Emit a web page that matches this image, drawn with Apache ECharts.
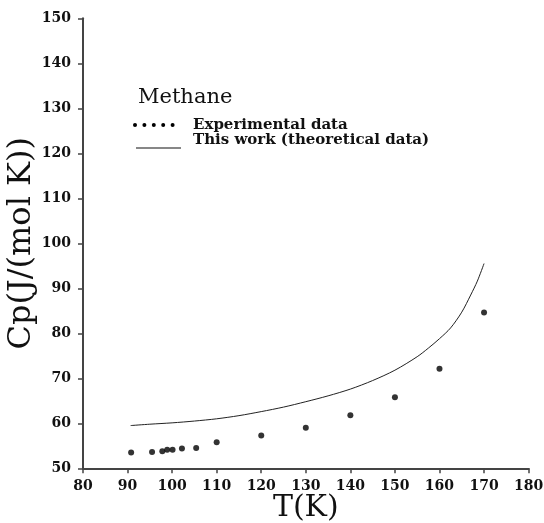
<!DOCTYPE html>
<html>
<head>
<meta charset="utf-8">
<script src="https://cdn.jsdelivr.net/npm/echarts@6/dist/echarts.min.js"></script>
<style>html,body{margin:0;padding:0;background:#fff}#c{width:544px;height:523px}</style>
</head>
<body>
<div id="c"></div>
<script>
// Experimental data
const expT  = [90.8, 95.5, 97.8, 98.9, 100.1, 102.2, 105.4, 110, 120, 130, 140, 150, 160, 170];
const expCp = [53.5, 53.6, 53.8, 54.1, 54.1, 54.4, 54.5, 55.8, 57.3, 59.0, 61.8, 65.8, 72.1, 84.6];
// Theoretical curve
const thT  = [90.7, 95, 100, 105, 110, 115, 120, 125, 130, 135, 140, 145, 150, 155, 157.5, 160, 162.5, 165, 167, 168.5, 170];
const thCp = [59.5, 59.8, 60.1, 60.5, 61.0, 61.7, 62.6, 63.6, 64.8, 66.1, 67.6, 69.5, 71.8, 74.8, 76.7, 78.8, 81.2, 84.7, 88.5, 91.6, 95.5];
// Axis ticks
const xTicks = [80, 90, 100, 110, 120, 130, 140, 150, 160, 170, 180];
const yTicks = [50, 60, 70, 80, 90, 100, 110, 120, 130, 140, 150];

const FONT = 'DejaVu Serif';
const chart = echarts.init(document.getElementById('c'), null, {renderer: 'canvas'});
const axisCommon = {
  axisLine: {show: true, lineStyle: {color: '#444', width: 2}},
  axisTick: {show: true, inside: false, length: 5, lineStyle: {color: '#444', width: 1.5}},
  splitLine: {show: false},
  axisLabel: {color: '#111', fontFamily: FONT, fontSize: 14, fontWeight: 'bold', margin: 12}
};
const legendDots = [];
for (let i = 0; i < 5; i++) {
  legendDots.push({type: 'circle', shape: {cx: 135 + i * 9.4, cy: 125, r: 2}, style: {fill: '#000'}});
}
chart.setOption({
  animation: false,
  backgroundColor: '#fff',
  grid: {left: 83, right: 15.4, top: 18.3, bottom: 54.7, containLabel: false, outerBoundsMode: 'none'},
  xAxis: Object.assign({}, axisCommon, {
    type: 'value', min: xTicks[0], max: xTicks[xTicks.length - 1], interval: 10,
    name: 'T(K)', nameLocation: 'middle', nameGap: 25, nameMoveOverlap: false,
    nameTextStyle: {fontFamily: FONT, fontSize: 30, color: '#111'},
    axisLabel: Object.assign({}, axisCommon.axisLabel, {margin: 11})
  }),
  yAxis: Object.assign({}, axisCommon, {
    type: 'value', min: yTicks[0], max: yTicks[yTicks.length - 1], interval: 10,
    name: 'Cp(J/(mol K))', nameLocation: 'middle', nameGap: 45, nameRotate: 90, nameMoveOverlap: false,
    nameTextStyle: {fontFamily: FONT, fontSize: 32, color: '#111'}
  }),
  series: [
    {
      type: 'line', name: 'This work (theoretical data)',
      data: thT.map((t, i) => [t, thCp[i]]),
      smooth: 0.3, showSymbol: false, symbol: 'none',
      lineStyle: {color: '#222', width: 1}
    },
    {
      type: 'scatter', name: 'Experimental data',
      data: expT.map((t, i) => [t, expCp[i]]),
      symbol: 'circle', symbolSize: 6,
      itemStyle: {color: '#000'}
    }
  ],
  graphic: [
    {type: 'text', style: {x: 138, y: 98, text: 'Methane', verticalAlign: 'middle', fontFamily: FONT, fontSize: 21, fill: '#111'}},
    ...legendDots,
    {type: 'text', style: {x: 193, y: 125, text: 'Experimental data', verticalAlign: 'middle', fontFamily: FONT, fontSize: 15, fontWeight: 'bold', fill: '#111'}},
    {type: 'line', shape: {x1: 136, y1: 148, x2: 181, y2: 148}, style: {stroke: '#111', lineWidth: 1.2}},
    {type: 'text', style: {x: 193, y: 140.5, text: 'This work (theoretical data)', verticalAlign: 'middle', fontFamily: FONT, fontSize: 15, fontWeight: 'bold', fill: '#111'}}
  ]
});
</script>
</body>
</html>
